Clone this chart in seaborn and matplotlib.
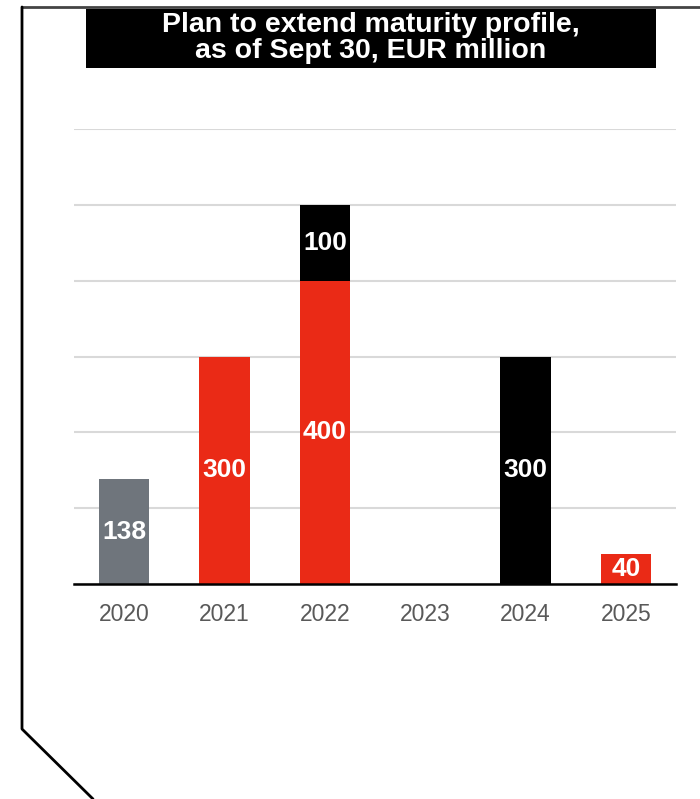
import matplotlib
matplotlib.use("Agg")
import numpy as np
import pandas as pd
import seaborn as sns
from matplotlib import pyplot as plt
from matplotlib.lines import Line2D
from matplotlib.patches import Rectangle

# values (EUR million)
years = ["2020", "2021", "2022", "2023", "2024", "2025"]
grey_vals = [138, 0, 0, 0, 0, 0]
red_vals = [0, 300, 400, 0, 0, 40]
black_vals = [0, 0, 100, 0, 300, 0]
y_ticks = [0, 100, 200, 300, 400, 500, 600]
title = "Plan to extend maturity profile,\nas of Sept 30, EUR million"

sns.set_theme(style="white")
plt.rcParams["font.family"] = ["Liberation Sans", "DejaVu Sans"]

df = pd.DataFrame({"year": years, "grey": grey_vals, "red": red_vals, "black": black_vals})

W, H = 700, 799
fig = plt.figure(figsize=(W / 100, H / 100), dpi=100)
ax = fig.add_axes([74 / W, 1 - 584 / H, (676 - 74) / W, (584 - 129) / H])

layers = [
    ("grey", "#6f757c", np.zeros(len(years))),
    ("red", "#ea2a16", df["grey"].to_numpy()),
    ("black", "#000000", (df["grey"] + df["red"]).to_numpy()),
]
for col, colour, base in layers:
    sns.barplot(data=df, x="year", y=col, color=colour, width=0.5,
                bottom=base, ax=ax, saturation=1, linewidth=0)
    cont = ax.containers[-1]
    labels = [f"{v:g}" if v > 0 else "" for v in df[col]]
    ax.bar_label(cont, labels=labels, label_type="center", color="white",
                 fontsize=19, fontweight="bold")

ax.set_ylim(0, 600)
ax.set_xlim(-0.5, 5.5)
ax.set_yticks(y_ticks)
ax.yaxis.grid(True, color="#d9d9d9", linewidth=1.5)
ax.set_axisbelow(True)
ax.tick_params(axis="y", left=False, labelleft=False)
ax.tick_params(axis="x", bottom=False, labelsize=16.5, colors="#595959", pad=8)
ax.set_xlabel("")
ax.set_ylabel("")
for s in ["top", "right", "left"]:
    ax.spines[s].set_visible(False)
ax.spines["bottom"].set_color("black")
ax.spines["bottom"].set_linewidth(1.8)

# title box
fig.patches.append(Rectangle((86 / W, 1 - 68 / H), (656 - 86) / W, (68 - 9) / H,
                             transform=fig.transFigure, facecolor="black",
                             edgecolor="none", zorder=1))
fig.text(371 / W, 1 - 38 / H, title, ha="center", va="center", color="white",
         fontsize=20.5, fontweight="bold", linespacing=0.98, zorder=2)

# frame outline
fig.lines.append(Line2D([22 / W, 1], [1 - 7 / H, 1 - 7 / H], transform=fig.transFigure,
                        color="#444444", linewidth=2))
fig.lines.append(Line2D([22 / W, 22 / W, 93 / W], [1 - 7 / H, 1 - 729 / H, 0],
                        transform=fig.transFigure, color="black", linewidth=2))

fig.savefig("out.png", dpi=100)
